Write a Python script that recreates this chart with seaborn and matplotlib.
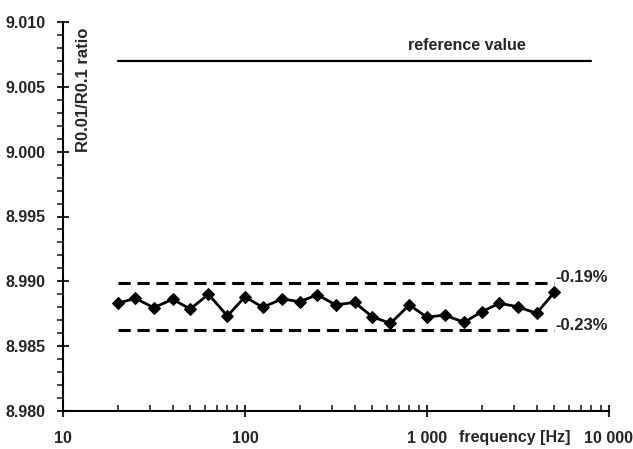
import numpy as np
import pandas as pd
import seaborn as sns
import matplotlib as mpl
mpl.use("Agg")
import matplotlib.pyplot as plt
from matplotlib.ticker import FixedLocator, FixedFormatter, MultipleLocator, FormatStrFormatter

# data
freq = [20, 25, 31.5, 40, 50, 63, 80, 100, 125, 160, 200, 250, 315, 400,
        500, 630, 800, 1000, 1250, 1600, 2000, 2500, 3150, 4000, 5000]
ratio = [8.98831, 8.98869, 8.98797, 8.98861, 8.98787, 8.98900, 8.98733,
         8.98881, 8.98800, 8.98864, 8.98843, 8.98897, 8.98818, 8.98838,
         8.98727, 8.98676, 8.98818, 8.98723, 8.98740, 8.98684, 8.98766,
         8.98831, 8.98804, 8.98753, 8.98915]
ref_value = 9.007
ref_span = [20, 8000]
band_span = [20, 5000]
band_upper = 8.9899   # -0.19 %
band_lower = 8.98628  # -0.23 %
band_labels = ["-0.19%", "-0.23%"]
xticks = [10, 100, 1000, 10000]
xtick_labels = ["10", "100", "1 000", "10 000"]

df = pd.DataFrame({"freq": freq, "ratio": ratio})

sns.set_style("ticks")
plt.rcParams['font.family'] = ['Liberation Sans', 'DejaVu Sans']
plt.rcParams['font.weight'] = 'bold'
fs = 11.5

fig = plt.figure(figsize=(6.33, 4.49), dpi=100)
ax = fig.add_axes([63 / 633, 1 - 411 / 449, 546 / 633, 389 / 449])

# reference value and tolerance band
ax.plot(ref_span, [ref_value, ref_value], color="black", lw=1.6)
for v in (band_upper, band_lower):
    ax.plot(band_span, [v, v], color="black", lw=2.2, dashes=(4, 2.2))

sns.lineplot(data=df, x="freq", y="ratio", ax=ax, color="black", lw=2.0,
             marker="D", markersize=6.5, markeredgecolor="black")

ax.set_xscale("log")
ax.set_xlim(10, 10000)
ax.set_ylim(8.980, 9.010)

ax.xaxis.set_major_locator(FixedLocator(xticks))
ax.xaxis.set_major_formatter(FixedFormatter(xtick_labels))
minors = [m * 10 ** d for d in range(1, 4) for m in range(2, 10)]
ax.xaxis.set_minor_locator(FixedLocator(minors))
ax.xaxis.set_minor_formatter(FixedFormatter([]))
ax.yaxis.set_major_locator(MultipleLocator(0.005))
ax.yaxis.set_minor_locator(MultipleLocator(0.001))
ax.yaxis.set_major_formatter(FormatStrFormatter("%.3f"))

ax.tick_params(axis="x", which="major", direction="inout", length=9, width=1.5,
               pad=10, labelsize=fs)
ax.tick_params(axis="x", which="minor", direction="in", length=4, width=1.2)
ax.tick_params(axis="y", which="major", direction="inout", length=9, width=1.5,
               pad=8, labelsize=fs)
ax.tick_params(axis="y", which="minor", direction="out", length=4, width=1.2)
for lab in ax.get_xticklabels() + ax.get_yticklabels():
    lab.set_fontweight("bold")

for s in ("top", "right"):
    ax.spines[s].set_visible(False)
for s in ("left", "bottom"):
    ax.spines[s].set_linewidth(1.5)
    ax.spines[s].set_color("black")

ax.set_xlabel("")
ax.set_ylabel("")
ax.text(0.037, 0.985, "R0.01/R0.1 ratio", transform=ax.transAxes, rotation=90,
        ha="center", va="top", fontsize=fs + 0.5, fontweight="bold")
ax.text(1650, 9.0082, "reference value", ha="center", va="center",
        fontsize=fs, fontweight="bold")
ax.text(5100, 8.9903, band_labels[0], ha="left", va="center",
        fontsize=fs + 0.5, fontweight="bold")
ax.text(5100, 8.9866, band_labels[1], ha="left", va="center",
        fontsize=fs + 0.5, fontweight="bold")
ax.text(0.828, -0.067, "frequency [Hz]", transform=ax.transAxes, ha="center",
        va="center", fontsize=fs, fontweight="bold")

fig.savefig("out.png", dpi=100)
